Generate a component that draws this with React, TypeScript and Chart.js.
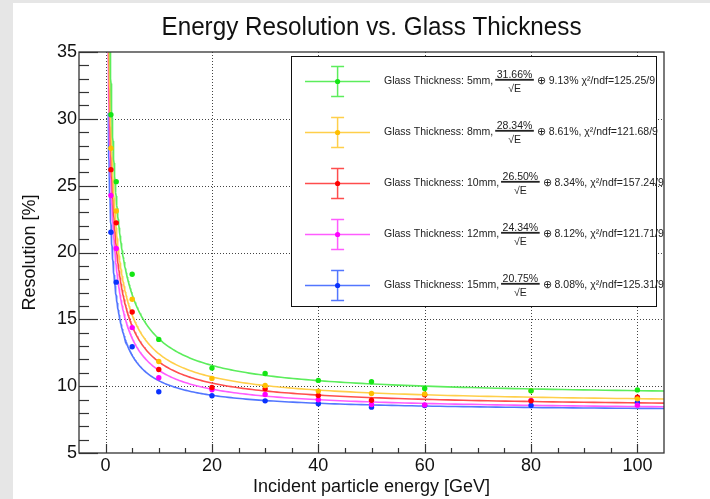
import React, { useEffect, useRef } from 'react';
import { Chart, registerables } from 'chart.js';

Chart.register(...registerables);

// ---- data ----
const energies = [1, 2, 5, 10, 20, 30, 40, 50, 60, 80, 100];
const res5mm = [30.3, 25.3, 18.37, 13.5, 11.35, 10.95, 10.43, 10.33, 9.83, 9.65, 9.72];
const res8mm = [27.8, 23.1, 16.5, 11.85, 10.58, 10.05, 9.63, 9.45, 9.42, 9.65, 9.05];
const res10mm = [26.2, 22.22, 15.55, 11.25, 9.9, 9.8, 9.3, 8.95, 9.35, 8.9, 9.18];
const res12mm = [24.26, 20.3, 14.38, 10.63, 9.73, 9.38, 8.98, 8.63, 8.6, 8.93, 8.58];
const res15mm = [21.52, 17.78, 12.95, 9.58, 9.28, 8.9, 8.68, 8.43, 8.55, 8.55, 8.78];
const seriesValues = [res5mm, res8mm, res10mm, res12mm, res15mm];

// fit results shown in the legend: sigma/E = a/sqrt(E) (+) b
const thickness = ['5mm', '8mm', '10mm', '12mm', '15mm'];
const stochasticTerm = [31.66, 28.34, 26.5, 24.34, 20.75];
const constantTerm = [9.13, 8.61, 8.34, 8.12, 8.08];
const constantSep = ['', ',', ',', ',', ','];
const chi2ndf = ['125.25/9', '121.68/9', '157.24/9', '121.71/9', '125.31/9'];
const fitRange = [0.5, 105];

const pointColors = ['#14e614', '#ffbf00', '#ff0000', '#ff00ff', '#0a32ff'];
const lineColors = ['#5ced5c', '#ffcf4a', '#ff4d4d', '#ff5cff', '#5276ff'];

const xTicks = [0, 20, 40, 60, 80, 100];
const yTicks = [5, 10, 15, 20, 25, 30, 35];
const xRange = [-5, 105];
const yRange = [5, 35];
const xMinorStep = 5;
const yMinorStep = 1;

const titleText = 'Energy Resolution vs. Glass Thickness';
const xTitle = 'Incident particle energy [GeV]';
const yTitle = 'Resolution [%]';

const FONT = '"Liberation Sans", Arial, Helvetica, sans-serif';

function fitCurve(a: number, b: number) {
  const pts: { x: number; y: number }[] = [];
  const n = 240;
  const [e0, e1] = fitRange;
  for (let i = 0; i <= n; i++) {
    const e = e0 * Math.pow(e1 / e0, i / n);
    pts.push({ x: e, y: Math.sqrt((a * a) / e + b * b) });
  }
  return pts;
}

const rootStyle = {
  id: 'rootStyle',
  beforeDraw(chart: any) {
    const { ctx, width, height } = chart;
    ctx.save();
    ctx.fillStyle = '#ffffff';
    ctx.fillRect(0, 0, width, height);
    ctx.fillStyle = '#e6e6e6';
    ctx.fillRect(0, 0, width, 3);
    ctx.fillRect(0, 0, 13, height);
    ctx.restore();
  },
  beforeDatasetsDraw(chart: any) {
    const { ctx, chartArea: a } = chart;
    const xs = chart.scales.x;
    const ys = chart.scales.y;
    ctx.save();
    ctx.strokeStyle = '#444';
    ctx.lineWidth = 1;
    ctx.setLineDash([1, 2]);
    xTicks.forEach((v) => {
      const px = Math.round(xs.getPixelForValue(v)) + 0.5;
      ctx.beginPath();
      ctx.moveTo(px, a.top);
      ctx.lineTo(px, a.bottom);
      ctx.stroke();
    });
    yTicks.forEach((v) => {
      if (v === yRange[0] || v === yRange[1]) return;
      const py = Math.round(ys.getPixelForValue(v)) + 0.5;
      ctx.beginPath();
      ctx.moveTo(a.left, py);
      ctx.lineTo(a.right, py);
      ctx.stroke();
    });
    ctx.restore();
  },
  afterDatasetsDraw(chart: any) {
    const { ctx, chartArea: a } = chart;
    const xs = chart.scales.x;
    const ys = chart.scales.y;
    ctx.save();
    ctx.strokeStyle = '#333';
    ctx.lineWidth = 1.2;
    ctx.setLineDash([]);
    for (let v = xTicks[0]; v <= xTicks[xTicks.length - 1] + 1e-9; v += xMinorStep) {
      const major = xTicks.includes(v);
      const px = Math.round(xs.getPixelForValue(v)) + 0.5;
      ctx.beginPath();
      ctx.moveTo(px, a.bottom);
      ctx.lineTo(px, a.bottom - (major ? 9 : 5));
      ctx.stroke();
    }
    for (let v = yRange[0]; v <= yRange[1] + 1e-9; v += yMinorStep) {
      const major = yTicks.includes(v);
      const py = Math.round(ys.getPixelForValue(v)) + 0.5;
      ctx.beginPath();
      ctx.moveTo(a.left, py);
      ctx.lineTo(a.left + (major ? 19 : 10), py);
      ctx.stroke();
    }
    ctx.lineWidth = 1.3;
    ctx.strokeRect(a.left, a.top, a.right - a.left, a.bottom - a.top);
    ctx.restore();
  },
  afterDraw(chart: any) {
    const { ctx, chartArea: a } = chart;
    ctx.save();
    ctx.fillStyle = '#111';
    // title
    ctx.font = `26px ${FONT}`;
    ctx.textAlign = 'center';
    ctx.textBaseline = 'alphabetic';
    const tw = ctx.measureText(titleText).width;
    const tk = 420 / tw;
    ctx.save();
    ctx.translate((a.left + a.right) / 2, 35);
    ctx.scale(tk, 1);
    ctx.fillText(titleText, 0, 0);
    ctx.restore();
    // axis titles
    ctx.font = `18px ${FONT}`;
    ctx.fillText(xTitle, (a.left + a.right) / 2, 491.5);
    ctx.save();
    ctx.translate(35, (a.top + a.bottom) / 2);
    ctx.rotate(-Math.PI / 2);
    ctx.fillText(yTitle, 0, 0);
    ctx.restore();

    // legend
    const L = { left: 291, top: 56, right: 656, bottom: 306 };
    ctx.fillStyle = '#fff';
    ctx.fillRect(L.left, L.top, L.right - L.left, L.bottom - L.top);
    ctx.strokeStyle = '#111';
    ctx.lineWidth = 1;
    ctx.strokeRect(L.left + 0.5, L.top + 0.5, L.right - L.left, L.bottom - L.top);

    ctx.font = `10.6px ${FONT}`;
    ctx.textAlign = 'left';
    const gapA = 2;
    const gapB = 3;
    const labelOf = (i: number) => `Glass Thickness: ${thickness[i]},`;
    const numOf = (i: number) => `${stochasticTerm[i].toFixed(2)}%`;
    const restOf = (i: number) => `⊕ ${constantTerm[i].toFixed(2)}%${constantSep[i]} χ²/ndf=${chi2ndf[i]}`;
    const rowWidth = (i: number) =>
      ctx.measureText(labelOf(i)).width + gapA + ctx.measureText(numOf(i)).width + 3 + gapB + ctx.measureText(restOf(i)).width;
    const textLeft = 384;
    const k = (655 - textLeft) / rowWidth(0);

    const drawT = (s: string, x: number, y: number, align: 'left' | 'center' = 'left') => {
      const w = ctx.measureText(s).width;
      ctx.fillText(s, align === 'center' ? x - w / 2 : x, y);
      return w;
    };

    thickness.forEach((th, i) => {
      const cy = L.top + 25.5 + i * 51;
      const mx = 337.6;
      ctx.strokeStyle = lineColors[i];
      ctx.lineWidth = 1.5;
      ctx.beginPath();
      ctx.moveTo(305, cy);
      ctx.lineTo(370, cy);
      ctx.moveTo(mx, cy - 15);
      ctx.lineTo(mx, cy + 15);
      ctx.moveTo(mx - 6.5, cy - 15);
      ctx.lineTo(mx + 6.5, cy - 15);
      ctx.moveTo(mx - 6.5, cy + 15);
      ctx.lineTo(mx + 6.5, cy + 15);
      ctx.stroke();
      ctx.fillStyle = pointColors[i];
      ctx.beginPath();
      ctx.arc(mx, cy, 2.6, 0, Math.PI * 2);
      ctx.fill();

      ctx.save();
      ctx.translate(textLeft, 0);
      ctx.scale(k, 1);
      ctx.fillStyle = '#222';
      let x = 0;
      x += drawT(labelOf(i), x, cy + 2.5);
      x += gapA;
      const num = numOf(i);
      const bw = ctx.measureText(num).width + 3;
      drawT(num, x + bw / 2, cy - 3.8, 'center');
      ctx.fillRect(x, cy - 2.6, bw, 1.8);
      drawT('√E', x + bw / 2, cy + 10.3, 'center');
      x += bw + gapB;
      drawT(restOf(i), x, cy + 2.5);
      ctx.restore();
    });
    ctx.restore();
  },
};

export default function App() {
  const ref = useRef<HTMLCanvasElement | null>(null);
  useEffect(() => {
    document.body.style.margin = '0';
    const canvas = ref.current;
    if (!canvas) return;

    const curveSets = thickness.map((th, i) => ({
      label: `fit ${th}`,
      data: fitCurve(stochasticTerm[i], constantTerm[i]),
      showLine: true,
      borderColor: lineColors[i],
      borderWidth: 1.6,
      pointRadius: 0,
      fill: false,
      order: 1,
    }));
    const pointSets = thickness.map((th, i) => ({
      label: `Glass Thickness: ${th}`,
      data: energies.map((e, j) => ({ x: e, y: seriesValues[i][j] })),
      showLine: false,
      pointRadius: 2.7,
      pointBorderWidth: 0,
      pointBackgroundColor: pointColors[i],
      pointBorderColor: pointColors[i],
      order: 0,
    }));

    const chart = new Chart(canvas, {
      type: 'scatter',
      data: { datasets: [...curveSets, ...pointSets] as any },
      options: {
        animation: false,
        responsive: false,
        maintainAspectRatio: false,
        events: [],
        layout: { padding: { left: 0, right: 46, top: 52, bottom: 0 } },
        plugins: {
          legend: { display: false },
          title: { display: false },
          tooltip: { enabled: false },
        },
        scales: {
          x: {
            type: 'linear',
            min: xRange[0],
            max: xRange[1],
            grid: { display: false, drawTicks: false, tickLength: 0 },
            border: { display: false },
            afterBuildTicks: (s: any) => {
              s.ticks = xTicks.map((v) => ({ value: v }));
            },
            afterFit: (s: any) => {
              s.height = 46;
            },
            ticks: {
              autoSkip: false,
              maxRotation: 0,
              padding: 2,
              color: '#111',
              font: { family: FONT, size: 18 },
            },
          },
          y: {
            type: 'linear',
            min: yRange[0],
            max: yRange[1],
            grid: { display: false, drawTicks: false, tickLength: 0 },
            border: { display: false },
            afterBuildTicks: (s: any) => {
              s.ticks = yTicks.map((v) => ({ value: v }));
            },
            afterFit: (s: any) => {
              s.width = 79;
            },
            ticks: {
              autoSkip: false,
              padding: 2,
              color: '#111',
              font: { family: FONT, size: 18 },
            },
          },
        },
      },
      plugins: [rootStyle],
    });
    return () => chart.destroy();
  }, []);

  return (
    <div style={{ width: 710, height: 499 }}>
      <canvas ref={ref} width={710} height={499} style={{ display: 'block' }} />
    </div>
  );
}
